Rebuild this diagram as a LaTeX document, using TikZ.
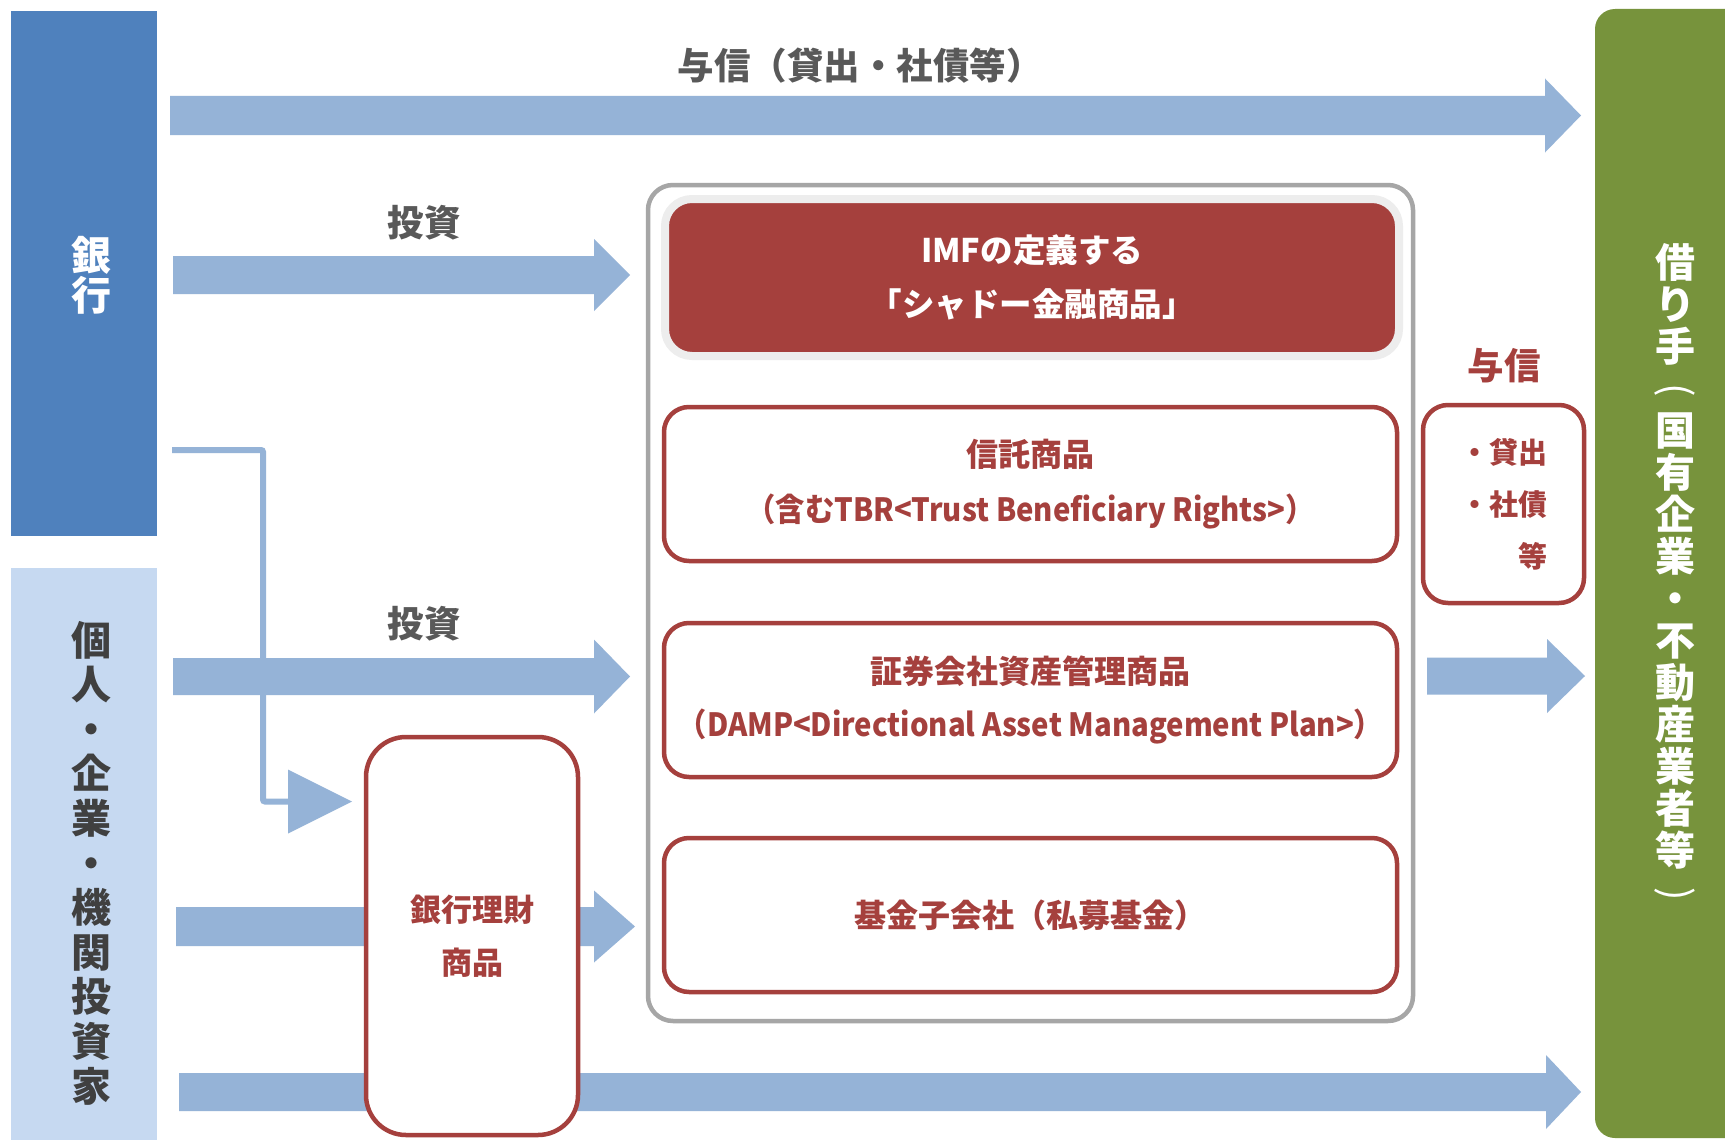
\documentclass[tikz,border=0pt]{standalone}
\usepackage{fontspec}
\newfontfamily\jp{Noto Sans CJK JP}
\usetikzlibrary{calc}
\definecolor{arrowblue}{HTML}{95B3D7}
\definecolor{bankblue}{HTML}{4F81BD}
\definecolor{paleblue}{HTML}{C6D9F1}
\definecolor{leafgreen}{HTML}{77933C}
\definecolor{boxred}{HTML}{A5403D}
\definecolor{framegray}{HTML}{A6A6A6}
\definecolor{glowgray}{HTML}{EDEDED}
\definecolor{labelgray}{HTML}{595959}
\definecolor{darktext}{HTML}{404040}
% block arrow from #1 to tip #2: shaft half-height #3, head half-height #4, head length #5
\newcommand\barrow[5]{%
  \fill[arrowblue] let \p1=(#1), \p2=(#2) in
    (\x1,\y1+#3pt) -- (\x2-#5pt,\y1+#3pt) -- (\x2-#5pt,\y1+#4pt) -- (\x2,\y1)
    -- (\x2-#5pt,\y1-#4pt) -- (\x2-#5pt,\y1-#3pt) -- (\x1,\y1-#3pt) -- cycle;}
\newcommand\narrowline[1]{\scalebox{0.915}[1]{#1}}
\newcommand\vparen[1]{\rotatebox[origin=c]{-90}{\mdseries #1}}
\begin{document}
\begin{tikzpicture}[x=1pt,y=-1pt,
  redbox/.style={draw=boxred, line width=4.5, fill=white, rounded corners=25,
    text=boxred, font=\jp\bfseries\fontsize{32}{55}\selectfont, align=center, inner sep=0},
  sidebox/.style={inner sep=0, draw=none},
  vtext/.style={align=center, inner sep=0, font=\jp\bfseries\fontsize{40}{#1}\selectfont},
  lbl/.style={text=labelgray, inner sep=0, font=\jp\bfseries\fontsize{36.5}{40}\selectfont},
]
\useasboundingbox (0,0) rectangle (1725,1140);
\clip (0,0) rectangle (1725,1140);
\fill[white] (0,0) rectangle (1725,1140);

% side boxes
\node[sidebox, fill=bankblue, minimum width=146, minimum height=525] (bank) at (84,273.5) {};
\node[vtext=40, text=white] (banktxt) at (91,275) {銀\\行};
\node[sidebox, fill=paleblue, minimum width=146, minimum height=572] (indiv) at (84,854) {};
\node[vtext=44.6, text=darktext] (indivtxt) at (91,863) {個\\人\\・\\企\\業\\・\\機\\関\\投\\資\\家};
\node[sidebox, fill=leafgreen, rounded corners=20, minimum width=165, minimum height=1129] (borrower) at (1677.5,573.5) {};
\node[vtext=42, text=white] (borrowtxt) at (1675,575)
  {借\\り\\手\\\vparen{(}\\国\\有\\企\\業\\・\\不\\動\\産\\業\\者\\等\\\vparen{)}};

% arrow end points
\coordinate (a1s) at (170,115.5);  \coordinate (a1e) at (1581,115.5);
\coordinate (a2s) at (173,275);    \coordinate (a2e) at (630,275);
\coordinate (a3s) at (173,676.5);  \coordinate (a3e) at (630,676.5);
\coordinate (a4s) at (1427,676);   \coordinate (a4e) at (1585,676);
\coordinate (a5s) at (176,926.5);  \coordinate (a5e) at (635,926.5);
\coordinate (a6s) at (179,1092);   \coordinate (a6e) at (1581,1092);
\barrow{a1s}{a1e}{19.5}{37}{36}
\barrow{a2s}{a2e}{19}{36}{36}
\barrow{a3s}{a3e}{18.5}{37}{36}
\barrow{a4s}{a4e}{18.5}{37}{38}
\barrow{a5s}{a5e}{19.5}{36}{41}
\barrow{a6s}{a6e}{19}{37}{35}

% bent connector from bank to bank wealth product
\coordinate (b0) at (172,450);
\coordinate (b1) at (263,450);
\coordinate (b2) at (263,801.5);
\coordinate (b3) at (292,801.5);
\coordinate (bt) at (352,801.5);
\draw[arrowblue, line width=6, rounded corners=2] (b0) -- (b1) -- (b2) -- (b3);
\fill[arrowblue] ($(b3)+(-4,-32)$) -- (bt) -- ($(b3)+(-4,32)$) -- cycle;

% labels
\node[lbl] (lyoshin) at (860,66) {与信（貸出・社債等）};
\node[lbl] (ltoushi1) at (424,223) {投資};
\node[lbl] (ltoushi2) at (424,624) {投資};
\node[lbl, text=boxred] (lyoshin2) at (1504,366) {与信};

% central frame
\node[draw=framegray, line width=4.5, rounded corners=25, minimum width=765, minimum height=836, inner sep=0] (frame) at (1030.5,603) {};
\node[fill=boxred, draw=glowgray, line width=8, rounded corners=27, minimum width=734, minimum height=157,
  inner sep=0, text=white, align=center, font=\jp\bfseries\fontsize{32.5}{54}\selectfont] (imf) at (1032,277.5)
  {IMFの定義する\\「シャドー金融商品」};
\node[redbox, minimum width=733, minimum height=154] (trust) at (1030.5,484)
  {信託商品\\\narrowline{（含むTBR<Trust Beneficiary Rights>）}};
\node[redbox, minimum width=733, minimum height=154, font=\jp\bfseries\fontsize{32}{53}\selectfont] (sec) at (1030.5,700)
  {証券会社資産管理商品\\\narrowline{（DAMP<Directional Asset Management Plan>）}};
\node[redbox, minimum width=733, minimum height=154] (fund) at (1030.5,915)
  {基金子会社（私募基金）};

% bank wealth management product
\node[redbox, rounded corners=40, minimum width=212, minimum height=398, font=\jp\bfseries\fontsize{31}{53}\selectfont] (wealth) at (472,936)
  {銀行理財\\商品};

% credit box
\node[redbox, minimum width=161, minimum height=198, align=right, font=\jp\bfseries\fontsize{29}{52}\selectfont] (credit) at (1503.5,504)
  {・貸出\\・社債\\等};
\end{tikzpicture}
\end{document}
